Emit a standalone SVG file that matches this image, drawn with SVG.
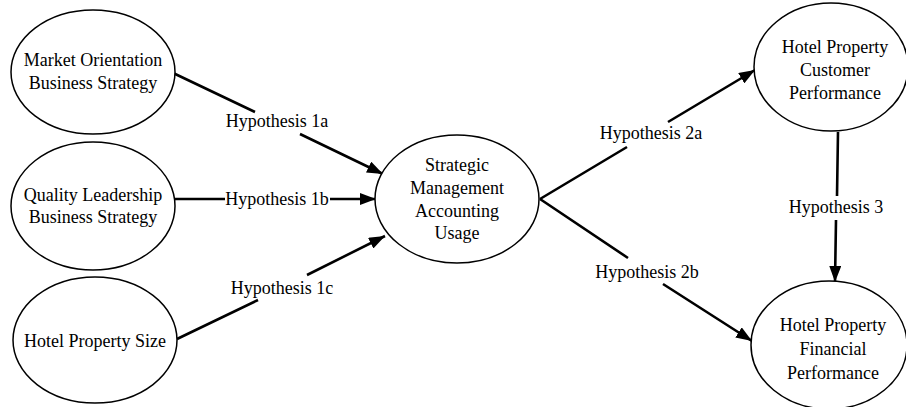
<svg xmlns="http://www.w3.org/2000/svg" width="906" height="407" viewBox="0 0 906 407">
<style>
.node ellipse{fill:#fff;stroke:#000;stroke-width:1.5}
text{font-family:"Liberation Serif","Times New Roman",serif;font-size:18px;fill:#000;text-anchor:middle}
.edge{fill:none;stroke:#000;stroke-width:2.6}
</style>
<defs>
<marker id="arr" viewBox="0 0 16 12" refX="16" refY="6" markerWidth="16" markerHeight="12" markerUnits="userSpaceOnUse" orient="auto">
<path d="M0,0 L16,6 L0,12 Z" fill="#000"/>
</marker>
</defs>
<rect width="906" height="407" fill="#fff"/>
<g id="connectors">
<path class="edge" d="M171,72 L255,112 M300,134 L383,174" marker-end="url(#arr)"/>
<path class="edge" d="M175,199 L225,199 M330,199 L376,199" marker-end="url(#arr)"/>
<path class="edge" d="M177,339 L258,300 M307,275 L385,236" marker-end="url(#arr)"/>
<path class="edge" d="M540,199 L627,147 M668,122 L755,70" marker-end="url(#arr)"/>
<path class="edge" d="M540,199 L628,258 M663,284 L752,341" marker-end="url(#arr)"/>
<path class="edge" d="M838,132 L837,196 M836,220 L835,282" marker-end="url(#arr)"/>
</g>
<g id="labels">
<text x="277" y="127">Hypothesis 1a</text>
<text x="277" y="205">Hypothesis 1b</text>
<text x="282" y="294">Hypothesis 1c</text>
<text x="651" y="139">Hypothesis 2a</text>
<text x="647" y="278">Hypothesis 2b</text>
<text x="836" y="213">Hypothesis 3</text>
</g>
<g id="market-orientation" class="node">
<ellipse cx="93" cy="72" rx="82" ry="62"/>
<text x="93" y="66">Market Orientation</text>
<text x="93" y="89">Business Strategy</text>
</g>
<g id="quality-leadership" class="node">
<ellipse cx="93" cy="206" rx="82" ry="64"/>
<text x="93" y="201">Quality Leadership</text>
<text x="93" y="223">Business Strategy</text>
</g>
<g id="hotel-size" class="node">
<ellipse cx="95" cy="340" rx="82" ry="63"/>
<text x="95" y="347">Hotel Property Size</text>
</g>
<g id="sma-usage" class="node">
<ellipse cx="457" cy="199" rx="82" ry="64"/>
<text x="457" y="171">Strategic</text>
<text x="457" y="194">Management</text>
<text x="457" y="217">Accounting</text>
<text x="457" y="239">Usage</text>
</g>
<g id="customer-performance" class="node">
<ellipse cx="831" cy="67" rx="77" ry="64"/>
<text x="835" y="53">Hotel Property</text>
<text x="835" y="76">Customer</text>
<text x="835" y="99">Performance</text>
</g>
<g id="financial-performance" class="node">
<ellipse cx="829" cy="345" rx="78" ry="64"/>
<text x="833" y="331">Hotel Property</text>
<text x="833" y="355">Financial</text>
<text x="833" y="379">Performance</text>
</g>
</svg>
